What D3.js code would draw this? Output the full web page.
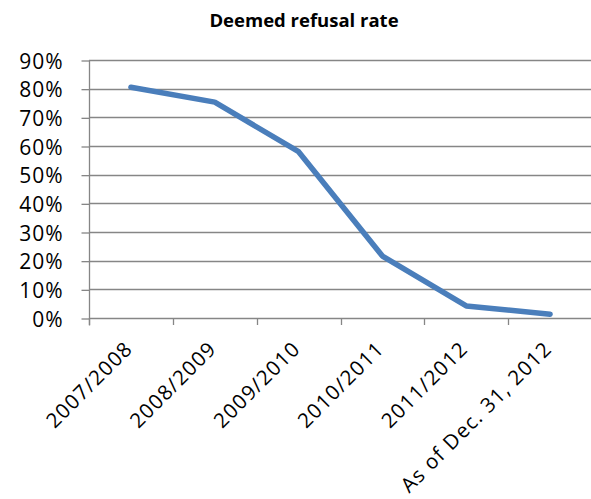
<!DOCTYPE html>
<html>
<head>
<meta charset="utf-8">
<script src="https://cdn.jsdelivr.net/npm/d3@7"></script>
<style>
  html, body { margin: 0; padding: 0; background: #fff; }
  svg { display: block; }
  text { font-family: "Open Sans", "Noto Sans", sans-serif; fill: #000; }
</style>
</head>
<body>
<svg id="chart" width="591" height="499"></svg>
<script>
// Deemed refusal rate by fiscal year
const categories = ["2007/2008", "2008/2009", "2009/2010", "2010/2011", "2011/2012", "As of Dec. 31, 2012"];
const refusalRate = [0.805, 0.753, 0.580, 0.216, 0.042, 0.013];
const yTicks = [0, 0.1, 0.2, 0.3, 0.4, 0.5, 0.6, 0.7, 0.8, 0.9];
const titleText = "Deemed refusal rate";

const svg = d3.select("#chart");
const plot = { left: 89, right: 592, top: 60, bottom: 318 };

const x = d3.scaleBand().domain(categories).range([plot.left, plot.right]).padding(0);
const y = d3.scaleLinear().domain([0, 0.9]).range([plot.bottom, plot.top]);

const gridColor = "#868686";

// Title
svg.append("text")
  .attr("x", 304)
  .attr("y", 27)
  .attr("text-anchor", "middle")
  .style("font-weight", "bold")
  .style("font-size", "18.5px")
  .text(titleText);

// Horizontal gridlines
svg.append("g")
  .selectAll("line")
  .data(yTicks)
  .join("line")
  .attr("x1", plot.left)
  .attr("x2", 591)
  .attr("y1", d => Math.round(y(d)) + 0.5)
  .attr("y2", d => Math.round(y(d)) + 0.5)
  .attr("stroke", gridColor)
  .attr("stroke-width", 1.3);

// Y axis
const yAxis = svg.append("g")
  .attr("transform", `translate(${plot.left + 0.5},0.5)`)
  .call(d3.axisLeft(y).tickValues(yTicks).tickFormat(d3.format(".0%")).tickSize(8).tickPadding(18));
yAxis.select(".domain").attr("stroke", gridColor).attr("stroke-width", 1.3)
  .attr("d", `M0,${plot.top}V${plot.bottom + 7}`);
yAxis.selectAll(".tick line").attr("stroke", gridColor).attr("stroke-width", 1.3);
yAxis.selectAll(".tick text")
  .style("font-size", "21px")
  .style("letter-spacing", "1px")
  .attr("fill", "#000")
  .attr("dy", "0.36em");

// X axis: tick marks at category boundaries
const bounds = categories.map(c => x(c));
svg.append("g")
  .selectAll("line")
  .data(bounds)
  .join("line")
  .attr("x1", d => Math.round(d) + 0.5)
  .attr("x2", d => Math.round(d) + 0.5)
  .attr("y1", plot.bottom)
  .attr("y2", plot.bottom + 7)
  .attr("stroke", gridColor)
  .attr("stroke-width", 1.3);

// Category labels, rotated
svg.append("g")
  .selectAll("text")
  .data(categories)
  .join("text")
  .attr("transform", d => `translate(${x(d) + x.bandwidth() / 2 + 3},350) rotate(-45)`)
  .attr("text-anchor", "end")
  .style("font-size", "20.5px")
  .style("letter-spacing", "1.2px")
  .text(d => d);

// Rate line
const line = d3.line()
  .x((d, i) => x(categories[i]) + x.bandwidth() / 2)
  .y(d => y(d));

svg.append("path")
  .datum(refusalRate)
  .attr("d", line)
  .attr("fill", "none")
  .attr("stroke", "#4a7ebb")
  .attr("stroke-width", 5.5)
  .attr("stroke-linejoin", "round")
  .attr("stroke-linecap", "round");
</script>
</body>
</html>
